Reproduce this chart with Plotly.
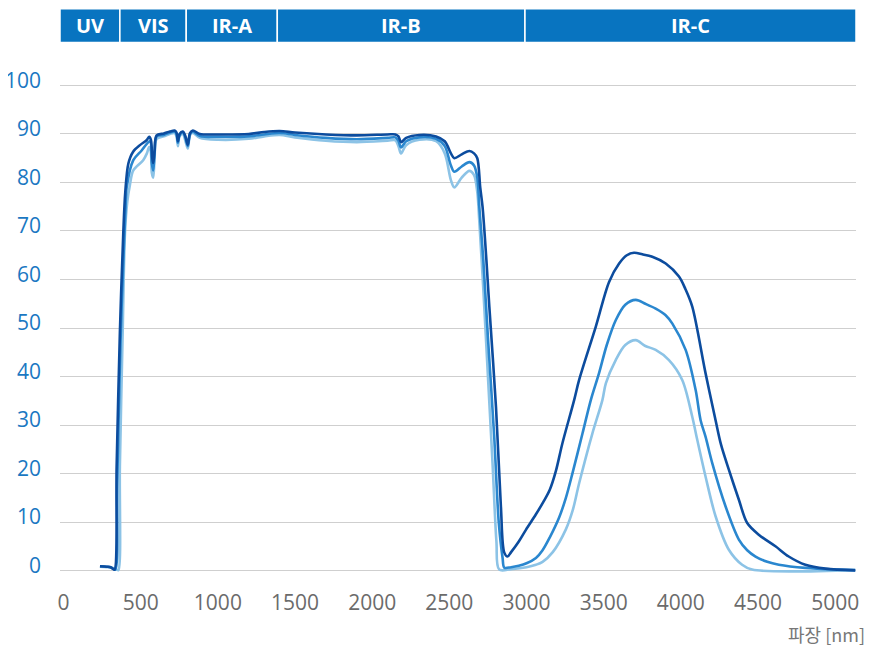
import plotly.graph_objects as go

# ---- data (wavelength in nm, transmission in %) ----
dark_x = [236, 280, 305, 318, 330, 344, 365, 387, 400, 420, 450, 495, 538, 555, 566, 575, 581, 590, 603,
          650, 689, 720, 732, 741, 752, 773, 790, 805, 820, 838, 883, 1000, 1200, 1300, 1400, 1500, 1700,
          1900, 2100, 2150, 2170, 2187, 2220, 2306, 2414, 2470, 2510, 2532, 2580, 2630, 2660, 2681, 2700,
          2715, 2740, 2759, 2802, 2834, 2856, 2877, 2900, 2950, 2996, 3061, 3110, 3150, 3190, 3233, 3309, 3341,
          3449, 3535, 3600, 3650, 3697, 3750, 3815, 3902, 3988, 4030, 4074, 4160, 4225, 4260, 4311, 4376,
          4430, 4505, 4613, 4699, 4807, 4937, 5130]
dark_y = [0.9, 0.8, 0.7, 0.4, 0.2, 21.5, 49, 69.5, 78, 83.9, 86.3, 87.7, 88.7, 89.4, 88.8, 85, 84, 86.5, 89.7,
          90.1, 90.5, 90.7, 90.3, 88.5, 90, 90.5, 89.5, 87.8, 90.2, 90.7, 90, 89.9, 90, 90.4, 90.6, 90.3, 89.9,
          89.7, 89.9, 89.9, 89.5, 88.3, 89.2, 89.8, 89.5, 88.5, 86, 85, 85.8, 86.5, 86, 85, 79,
          75, 64, 54.4, 33.8, 13.2, 3.7, 2.9, 3.8, 6, 8.4, 11.6, 14.2, 16.6, 20.5, 26.3, 35.2, 39.3,
          50.3, 59.5, 63.3, 65, 65.5, 65.2, 64.7, 63.3, 60.6, 58, 54.4, 40.7, 31, 26, 20.8, 14.6,
          9.8, 7.4, 5, 2.9, 1.2, 0.4, 0.05]

mid_x = [236, 280, 305, 320, 335, 348, 368, 390, 402, 409, 452, 506, 549, 562, 572, 581, 590, 603,
         650, 689, 720, 732, 741, 752, 773, 790, 805, 820, 838, 883, 1000, 1200, 1300, 1400, 1500, 1700,
         1900, 2100, 2150, 2170, 2187, 2220, 2306, 2414, 2470, 2510, 2532, 2580, 2630, 2660, 2681, 2694,
         2720, 2750, 2790, 2820, 2845, 2856, 2900, 2950, 3000, 3061, 3104, 3150, 3212, 3255, 3298, 3363,
         3417, 3470, 3520, 3578, 3640, 3708, 3770, 3837, 3900, 3945, 4031, 4096, 4128, 4160, 4203, 4290,
         4376, 4430, 4484, 4560, 4635, 4807, 5022, 5130]
mid_y = [0.9, 0.8, 0.7, 0.4, 0.2, 18, 46, 66, 75, 79, 84.6, 86.6, 88.3, 88.5, 84, 82.5, 86, 89.5,
         89.8, 90.3, 90.5, 90, 88.2, 89.8, 90.3, 89.2, 87.5, 90, 90.5, 89.6, 89.4, 89.5, 89.9, 90.2, 89.8, 89.2,
         88.9, 89.2, 89.3, 88.6, 87.2, 88.5, 89.3, 89, 87.5, 83.5, 82.2, 83.3, 84.2, 83.5, 81, 75,
         64, 48, 28, 10, 2.6, 0.6, 0.7, 1.0, 1.5, 2.6, 4.2, 6.8, 11, 15, 20.1, 28.3,
         35.2, 40.7, 46.5, 51.6, 54.8, 55.8, 55, 54, 52.7, 50.9, 45.5, 37.2, 31, 27.6, 22.2, 13.2,
         6.4, 4.2, 2.9, 1.8, 1.2, 0.55, 0.2, 0.1]

light_x = [236, 280, 310, 330, 345, 355, 365, 383, 398, 413, 430, 452, 516, 540, 555, 565, 572, 581, 590, 603,
           650, 689, 720, 732, 741, 752, 773, 790, 805, 820, 838, 883, 1000, 1200, 1300, 1400, 1500, 1700,
           1900, 2100, 2150, 2170, 2187, 2220, 2306, 2414, 2470, 2510, 2532, 2580, 2630, 2660, 2681, 2694,
           2720, 2750, 2780, 2805, 2823, 2900, 3000, 3061, 3104, 3170, 3255, 3300, 3341, 3427, 3492, 3514,
           3578, 3640, 3708, 3770, 3837, 3923, 4009, 4074, 4106, 4160, 4225, 4311, 4397, 4462, 5130]
light_y = [0.8, 0.7, 0.6, 0.4, 0.2, 0.1, 21.5, 49, 69.5, 76, 79.5, 82.5, 84.6, 86, 87.3, 86.5, 82, 81, 85, 89,
           89.5, 90, 90.2, 89.5, 87.5, 89.5, 90, 88.5, 87, 89.8, 90.2, 89.2, 88.8, 89, 89.5, 89.8, 89.3, 88.6,
           88.3, 88.6, 88.7, 87.5, 86, 87.7, 88.8, 88.5, 86, 80.5, 79, 81, 82.4, 81.5, 78, 72,
           58, 40, 22, 6, 0.2, 0.3, 0.7, 1.2, 1.8, 3.8, 8.5, 12.5, 18, 28.3, 35.2, 38.6,
           43.4, 46.5, 47.5, 46.3, 45.5, 43.4, 39.3, 31.7, 27, 19.4, 11.2, 4.3, 1.2, 0.2, 0.1]

band_labels = ["UV", "VIS", "IR-A", "IR-B", "IR-C"]
band_edges = [-23, 365, 795, 1385, 2990, 5135]

y_ticks = [0, 10, 20, 30, 40, 50, 60, 70, 80, 90, 100]
x_ticks = [0, 500, 1000, 1500, 2000, 2500, 3000, 3500, 4000, 4500, 5000]

colors = ["#0c4c9e", "#2a87cf", "#8cc3e6"]

fig = go.Figure()
for xs, ys, c in [(light_x, light_y, colors[2]), (mid_x, mid_y, colors[1]), (dark_x, dark_y, colors[0])]:
    fig.add_trace(go.Scatter(x=xs, y=ys, mode="lines",
                             line=dict(color=c, width=2.6, shape="spline", smoothing=0.9),
                             hoverinfo="skip", showlegend=False))

# top band (paper coords above the plot area)
y0b, y1b = 1.085, 1.154
for i, lab in enumerate(band_labels):
    x0, x1 = band_edges[i], band_edges[i + 1]
    fig.add_shape(type="rect", xref="x", yref="paper", x0=x0, x1=x1, y0=y0b, y1=y1b,
                  fillcolor="#0874c0", line=dict(color="white", width=1.5), layer="above")
    fig.add_annotation(x=(x0 + x1) / 2, y=(y0b + y1b) / 2, xref="x", yref="paper",
                       xanchor="center", yanchor="middle",
                       text=f"<b>{lab}</b>", showarrow=False,
                       font=dict(family="Open Sans", size=20, color="white"))

fig.add_annotation(x=1.0138, y=-0.1255, xref="paper", yref="paper", xanchor="right", yanchor="middle",
                   text="파장 [nm]", showarrow=False,
                   font=dict(family="Noto Sans CJK KR", size=18, color="#777777"))

fig.update_layout(
    width=865, height=641,
    margin=dict(l=52, r=17, t=75.5, b=75.5, autoexpand=False),
    paper_bgcolor="white", plot_bgcolor="white",
    showlegend=False,
    xaxis=dict(range=[-23, 5135], tickvals=x_ticks, showgrid=False, zeroline=False, showline=False,
               automargin=False,
               ticks="", tickfont=dict(family="Open Sans", size=21, color="#6b6b6b"),
               ticklabelstandoff=15),
    yaxis=dict(range=[-0.5, 100.3], tickvals=y_ticks, showgrid=True, gridcolor="#cfcfcf", gridwidth=1.3,
               zeroline=False, showline=False, ticks="", automargin=False,
               tickfont=dict(family="Open Sans", size=21, color="#1a78c2"),
               ticklabelstandoff=18, ticklabelshift=-5),
)

fig.write_html("out.html")
